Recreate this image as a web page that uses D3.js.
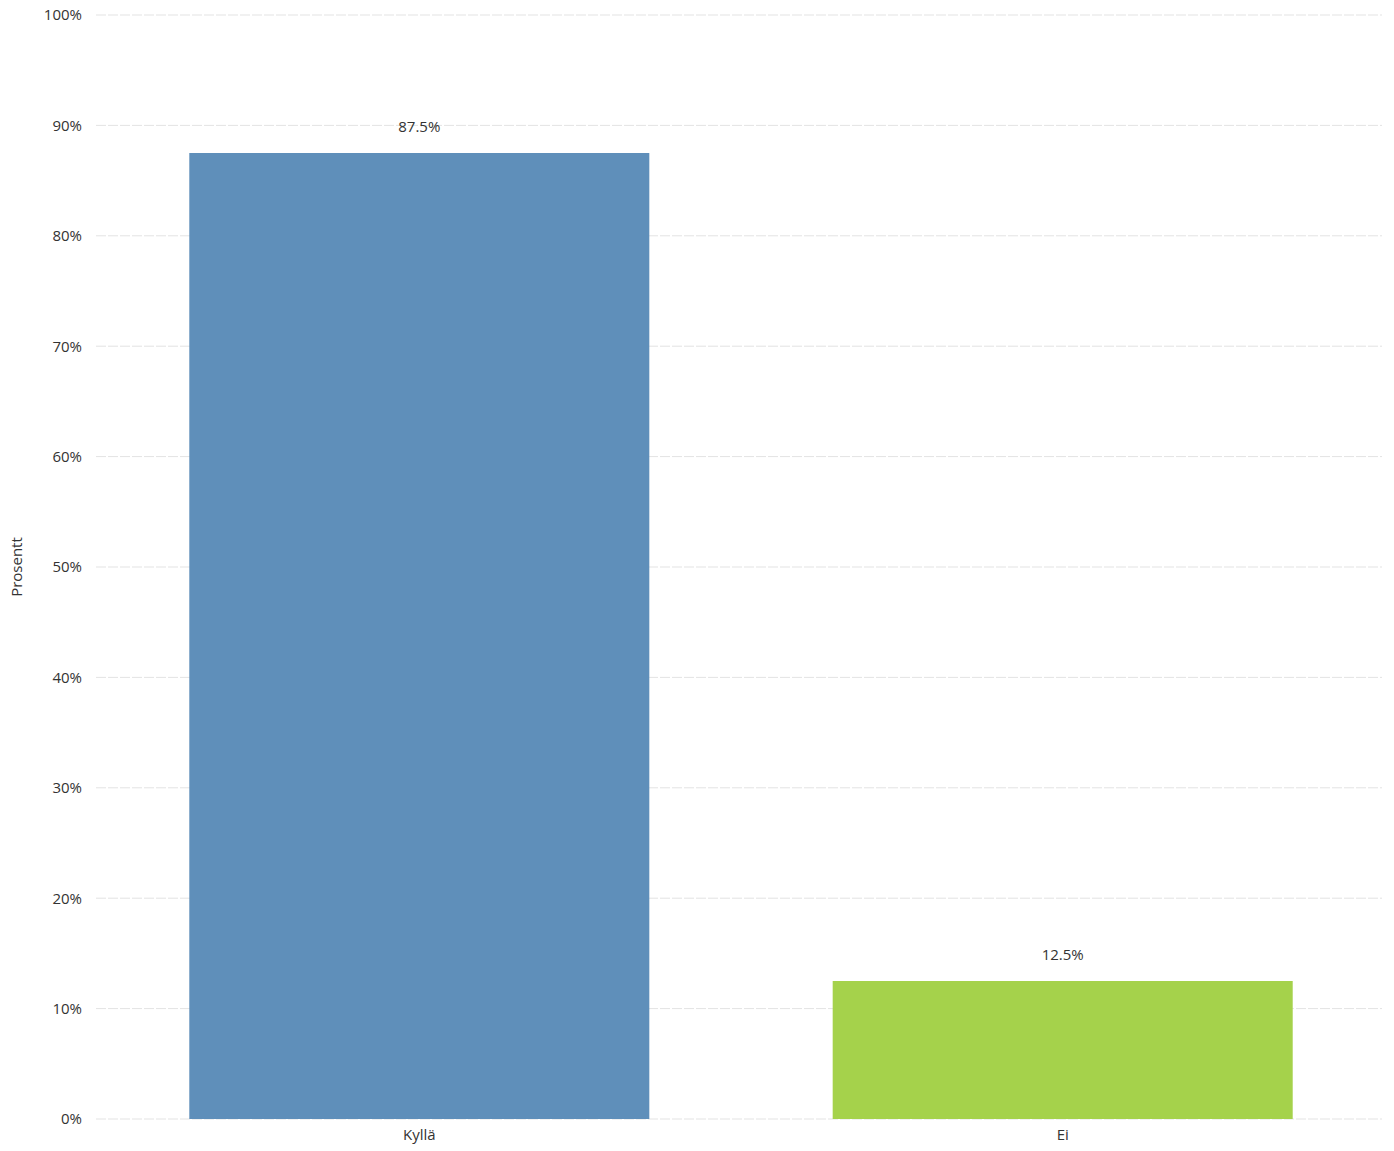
<!DOCTYPE html>
<html><head><meta charset="utf-8">
<script src="https://cdn.jsdelivr.net/npm/d3@7"></script>
<style>body{margin:0;background:#fff;} text{font-family:"Open Sans",sans-serif;}</style>
</head><body>
<svg id="c" width="1394" height="1151"></svg>
<script>
const categories = ["Kyllä", "Ei"];
const values = [87.5, 12.5];
const valueLabels = ["87.5%", "12.5%"];
const colors = ["#5f8fba", "#a5d24b"];
const yTicks = [0,10,20,30,40,50,60,70,80,90,100];
const yTitle = "Prosentt";

const svg = d3.select("#c");
const x0 = 96, x1 = 1386, yTop = 15, yBot = 1119;
const x = d3.scaleBand().domain(categories).range([x0, x1]).paddingInner(0.285).paddingOuter(0.145);
const y = d3.scaleLinear().domain([0, 100]).range([yBot, yTop]);

// gridlines
svg.append("g").selectAll("line").data(yTicks).join("line")
  .attr("x1", x0).attr("x2", x1 - 4)
  .attr("y1", d => y(d)).attr("y2", d => y(d))
  .attr("stroke", "#e3e3e3").attr("stroke-width", 1).attr("stroke-dasharray", "10,2");

// y axis
const ya = svg.append("g").attr("transform", `translate(${x0 - 4},0)`)
  .call(d3.axisLeft(y).tickValues(yTicks).tickSize(0).tickPadding(10).tickFormat(d => d + "%"));
ya.select(".domain").remove();
ya.selectAll("text").attr("font-size", 15).attr("fill", "#333").style("font-family", '"Open Sans",sans-serif');

// x axis
const xa = svg.append("g").attr("transform", `translate(0,${yBot})`)
  .call(d3.axisBottom(x).tickSize(0).tickPadding(10));
xa.select(".domain").remove();
xa.selectAll("text").attr("font-size", 15).attr("fill", "#333").style("font-family", '"Open Sans",sans-serif');

// bars
svg.append("g").selectAll("rect").data(categories).join("rect")
  .attr("x", d => x(d)).attr("width", x.bandwidth())
  .attr("y", (d, i) => y(values[i])).attr("height", (d, i) => y(0) - y(values[i]))
  .attr("fill", (d, i) => colors[i]);

// value labels
svg.append("g").selectAll("text").data(categories).join("text")
  .attr("x", d => x(d) + x.bandwidth() / 2)
  .attr("y", (d, i) => y(values[i]) - 21)
  .attr("text-anchor", "middle").attr("font-size", 15).attr("fill", "#333")
  .text((d, i) => valueLabels[i]);

// y title
svg.append("text").attr("transform", `translate(22,${(yTop + yBot) / 2}) rotate(-90)`)
  .attr("text-anchor", "middle").attr("font-size", 15).attr("fill", "#333").text(yTitle);
</script>
</body></html>
